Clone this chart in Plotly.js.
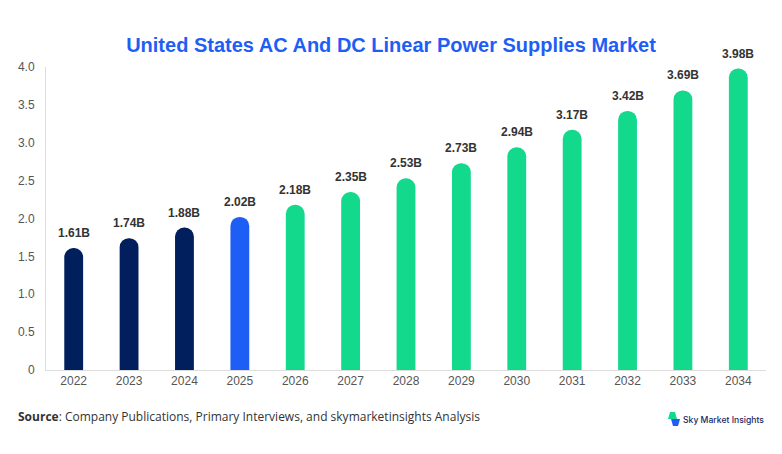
<!DOCTYPE html>
<html>
<head>
<meta charset="utf-8">
<script src="https://cdn.plot.ly/plotly-3.0.1.min.js"></script>
<style>html,body{margin:0;padding:0;background:#fff;}#chart{width:782px;height:454px;}</style>
</head>
<body>
<div id="chart"></div>
<script>
const years = ["2022","2023","2024","2025","2026","2027","2028","2029","2030","2031","2032","2033","2034"];
const values = [1.61,1.74,1.88,2.02,2.18,2.35,2.53,2.73,2.94,3.17,3.42,3.69,3.98];
const labels = ["1.61B","1.74B","1.88B","2.02B","2.18B","2.35B","2.53B","2.73B","2.94B","3.17B","3.42B","3.69B","3.98B"];
const barColors = ["#001f5c","#001f5c","#001f5c","#1f5ef5","#13d98d","#13d98d","#13d98d","#13d98d","#13d98d","#13d98d","#13d98d","#13d98d","#13d98d"];
const yTickVals = [0,0.5,1,1.5,2,2.5,3,3.5,4];
const yTickText = ["0","0.5","1.0","1.5","2.0","2.5","3.0","3.5","4.0"];

const trace = {
  type: "bar",
  x: years,
  y: values,
  marker: {color: barColors, cornerradius: 9},
  width: 0.34,
  hoverinfo: "none"
};

const annotations = years.map((yr, i) => ({
  x: i, y: values[i], xref: "x", yref: "y",
  text: "<b>" + labels[i] + "</b>",
  showarrow: false, yanchor: "bottom", yshift: 6,
  font: {family: "Liberation Sans, Arial, sans-serif", size: 12, color: "#333333"}
}));

annotations.push({
  xref: "paper", yref: "paper", x: -0.042, y: -0.152, xanchor: "left", yanchor: "middle",
  text: "<b>Source</b>: Company Publications, Primary Interviews, and skymarketinsights Analysis",
  showarrow: false, font: {family: "Open Sans, sans-serif", size: 12, color: "#333333"}
});
annotations.push({
  xref: "paper", yref: "paper", x: 1.0, y: -0.165, xanchor: "right", yanchor: "middle",
  text: "Sky Market Insights",
  showarrow: false, font: {family: "Inter, sans-serif", size: 8.6, color: "#1b2a5e", weight: 500}
});

const layout = {
  width: 782, height: 454,
  margin: {l: 46, r: 16, t: 67, b: 84},
  paper_bgcolor: "#ffffff", plot_bgcolor: "#ffffff",
  title: {
    text: "<b>United States AC And DC Linear Power Supplies Market</b>",
    x: 0.5, xanchor: "center", y: 0.9, yanchor: "middle", yref: "container",
    font: {family: "Liberation Sans, Arial, sans-serif", size: 20, color: "#1f5ef5"}
  },
  xaxis: {
    type: "category", range: [-0.5, 12.5], showgrid: false, showline: true, linecolor: "#dddddd", linewidth: 1,
    ticks: "", tickfont: {family: "Liberation Sans, Arial, sans-serif", size: 12, color: "#555555"},
    fixedrange: true
  },
  yaxis: {
    range: [0, 4.0], tickvals: yTickVals, ticktext: yTickText, showgrid: false,
    showline: true, linecolor: "#dddddd", linewidth: 1, zeroline: false, ticks: "",
    ticklabelstandoff: 8,
    tickfont: {family: "Liberation Sans, Arial, sans-serif", size: 12, color: "#555555"},
    fixedrange: true
  },
  showlegend: false,
  annotations: annotations,
  shapes: [
    {type: "path", xref: "paper", yref: "paper", path: "M 0.8667 -0.1386 L 0.8736 -0.1386 L 0.8764 -0.1617 L 0.8639 -0.1617 Z", fillcolor: "#13d98d", line: {width: 0}},
    {type: "path", xref: "paper", yref: "paper", path: "M 0.8681 -0.1617 L 0.8806 -0.1617 L 0.8778 -0.1848 L 0.8708 -0.1848 Z", fillcolor: "#1f5ef5", line: {width: 0}}
  ]
};

Plotly.newPlot("chart", [trace], layout, {displayModeBar: false, staticPlot: true});
</script>
</body>
</html>
